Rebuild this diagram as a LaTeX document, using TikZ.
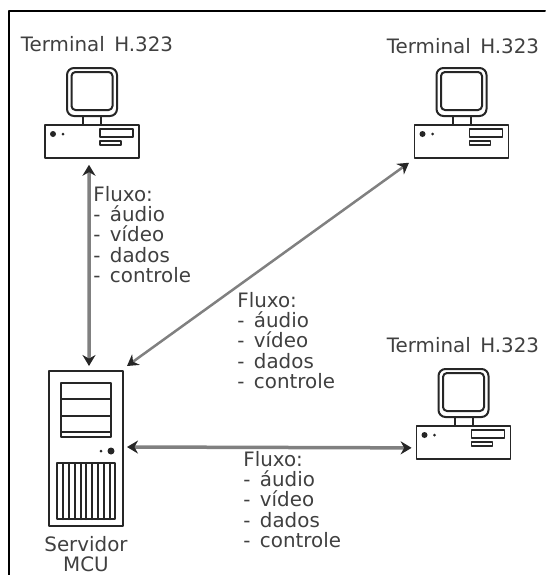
\documentclass[tikz,border=0pt]{standalone}
\usepackage{fontspec}
\setmainfont[WordSpace=1.5]{DejaVu Sans}
\usepackage{xcolor}
\usetikzlibrary{arrows.meta, positioning, calc}

\definecolor{setacinza}{gray}{0.5}
\definecolor{textocinza}{gray}{0.25}

\tikzset{
    fluxo/.style={{Stealth[length=0.22cm,width=0.26cm,color=black!85]}-{Stealth[length=0.22cm,width=0.26cm,color=black!85]}, setacinza, line width=0.07cm},
    rotulo/.style={font=\fontsize{11.3pt}{11.5pt}\selectfont, text=textocinza, inner sep=0pt},
    lista/.style={rotulo, align=left, anchor=north west},
    peca/.style={draw=black!85, line width=0.035cm, fill=white, inner sep=0pt, minimum width=0cm},
    pics/terminal/.style={code={
        % Monitor
        \draw[black!85, line width=0.04cm, rounded corners=0.14cm] (-25,-56) rectangle (25,-8);
        \draw[black!85, line width=0.04cm, rounded corners=0.08cm] (-20.5,-52) rectangle (20.5,-14);
        % Neck
        \draw[black!85, line width=0.04cm] (-9,-8) -- (-9,0) (9,-8) -- (9,0);
        % Case
        \node[peca, minimum width=1.88cm, minimum height=0.66cm, anchor=north] (-base) at (0,0) {};
        \draw[black!85, line width=0.035cm] (8,5) rectangle (41,13);
        \draw[black!85, line width=0.035cm] (8,17) rectangle (29,21);
        \fill[black!85] (-39,10) circle (3);
        \fill[black!85] (-29,10) circle (1.5);
    }}
}

\begin{document}
\begin{tikzpicture}[x=0.02cm, y=-0.02cm, >=Stealth, line cap=round, line join=round]

    % Frame
    \useasboundingbox (0,0) rectangle (545,575);
    \draw[black, line width=0.04cm] (9,575) -- (9,11) -- (545,11);

    % Terminals
    \pic (terma) at (92,124) {terminal};
    \pic (termb) at (461.5,124) {terminal};
    \pic (termc) at (463.5,425) {terminal};
    \node[rotulo] (labela) at (97,44) {Terminal H.323};
    \node[rotulo] (labelb) at (463,46) {Terminal H.323};
    \node[rotulo] (labelc) at (463,345) {Terminal H.323};

    % Server
    \node[peca, line width=0.04cm, minimum width=1.48cm, minimum height=3.1cm] (servidor) at (86,448.5) {};
    \draw[black!85, line width=0.04cm] (61,383) rectangle (111,437);
    \foreach \y in {399,416,432}{
        \draw[black!85, line width=0.035cm] (61,\y) -- (111,\y);
    }
    \fill[black!85] (111,451) circle (3.5);
    \fill[black!85] (101,451) circle (1.5);
    \draw[black!85, line width=0.035cm] (57,463) rectangle (115,519);
    \foreach \x in {63,69,75,81,86,92,98,104,110}{
        \draw[black!85, line width=0.04cm] (\x,463) -- (\x,519);
    }
    \node[rotulo, align=center] (labelserv) at (86,554) {Servidor\\MCU};

    % Arrows
    \draw[fluxo] ([xshift=-0.06cm,yshift=-0.12cm]terma-base.south) -- ([xshift=0.06cm,yshift=0.08cm]servidor.north);
    \draw[fluxo, line width=0.05cm] ([xshift=-1.05cm,yshift=-0.08cm]termb-base.south) -- ([xshift=0.06cm,yshift=0.08cm]servidor.north east);
    \draw[fluxo] ([xshift=0.06cm,yshift=0.03cm]servidor.east) -- ([xshift=-0.08cm,yshift=-0.11cm]termc-base.west);

    % Flow lists
    \foreach \name/\x/\y in {fluxoa/93/186, fluxob/237/292, fluxoc/243/451}{
        \node[lista] (\name) at (\x,\y) {Fluxo:\\ - áudio\\ - vídeo\\ - dados\\ - controle};
    }

\end{tikzpicture}
\end{document}
